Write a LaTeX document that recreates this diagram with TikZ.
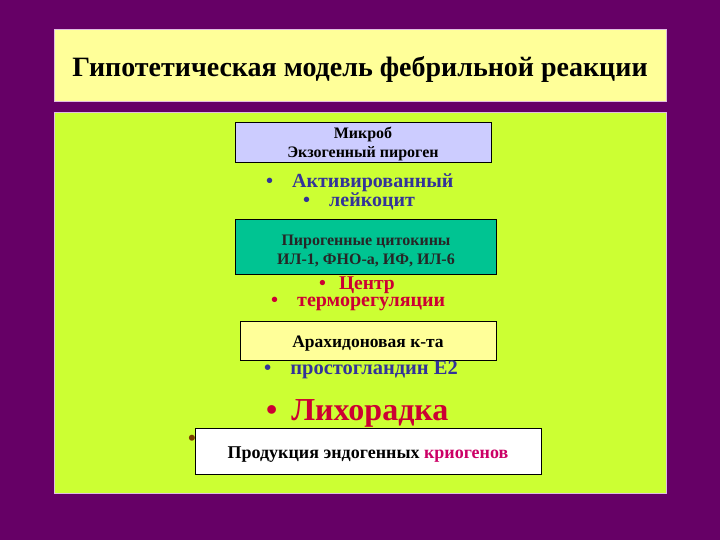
\documentclass[tikz,border=0pt]{standalone}
\usepackage{fontspec}
\setmainfont{Liberation Serif}
\definecolor{slidepurple}{RGB}{102, 0, 102}
\definecolor{paleyellow}{RGB}{255, 255, 153}
\definecolor{limegreen1}{RGB}{204, 255, 51}
\definecolor{lavender1}{RGB}{204, 204, 255}
\definecolor{teal1}{RGB}{0, 196, 146}
\definecolor{navy1}{RGB}{51, 51, 153}
\definecolor{crimson1}{RGB}{204, 0, 51}
\definecolor{rose1}{RGB}{204, 0, 102}
\definecolor{paleframe}{RGB}{225, 190, 225}
\definecolor{brown1}{RGB}{120, 60, 0}
\usetikzlibrary{positioning}
\tikzset{
  panel/.style={draw=paleframe, line width=1bp},
  stagebox/.style={draw=black, line width=0.8bp, rectangle, inner sep=0pt},
  boxtext/.style={font=\fontsize{16bp}{19bp}\selectfont\bfseries, align=center},
  bulletline/.style={anchor=west, inner sep=0pt, font=\fontsize{20bp}{20bp}\selectfont\bfseries}
}
\begin{document}
\begin{tikzpicture}[x=1bp, y=-1bp]
  \fill[slidepurple] (0,0) rectangle (720,540);

  % Title and main panel
  \filldraw[panel, fill=paleyellow] (54,30) rectangle (666,102);
  \node[font=\fontsize{28bp}{30bp}\selectfont\bfseries] (title) at (360,69) {Гипотетическая модель фебрильной реакции};
  \filldraw[panel, fill=limegreen1] (54,113) rectangle (666,493);

  % Stage boxes
  \filldraw[stagebox, fill=lavender1] (235,122) rectangle (491,162);
  \node[boxtext] (microbe) at (363,144) {Микроб\\Экзогенный пироген};

  \node[bulletline, text=navy1] (leuk1) at (266,183) {•\hspace{19bp}Активированный};
  \node[bulletline, text=navy1] (leuk2) at (303,201) {•\hspace{19bp}лейкоцит};

  \filldraw[stagebox, fill=teal1] (235,219) rectangle (496,274);
  \node[boxtext, text=black!85] (cytokines) at (366,251) {Пирогенные цитокины\\ИЛ-1, ФНО-а, ИФ, ИЛ-6};

  \node[bulletline, text=crimson1, font=\fontsize{19.5bp}{20bp}\selectfont\bfseries] (center1) at (319,285) {•\hspace{13bp}Центр};
  \node[bulletline, text=crimson1] (center2) at (271,304) {•\hspace{19bp}терморегуляции};

  \filldraw[stagebox, fill=paleyellow] (240,321) rectangle (496,360);
  \node[boxtext, font=\fontsize{17.5bp}{19bp}\selectfont\bfseries] (arachid) at (368,344) {Арахидоновая к-та};

  \node[bulletline, text=navy1, font=\fontsize{20.5bp}{20bp}\selectfont\bfseries] (pge) at (264,370) {•\hspace{19bp}простогландин Е2};

  \node[bulletline, text=crimson1, font=\fontsize{32bp}{34bp}\selectfont\bfseries] (fever) at (266,413) {•\hspace{14bp}Лихорадка};

  \node[bulletline, text=brown1, font=\fontsize{22bp}{22bp}\selectfont\bfseries] (dot) at (188,440) {•};
  \filldraw[stagebox, fill=white] (195,428) rectangle (541,474);
  \node[boxtext, font=\fontsize{18bp}{19bp}\selectfont\bfseries] (cryo) at (368,455) {Продукция эндогенных \textcolor{rose1}{криогенов}};
\end{tikzpicture}
\end{document}
